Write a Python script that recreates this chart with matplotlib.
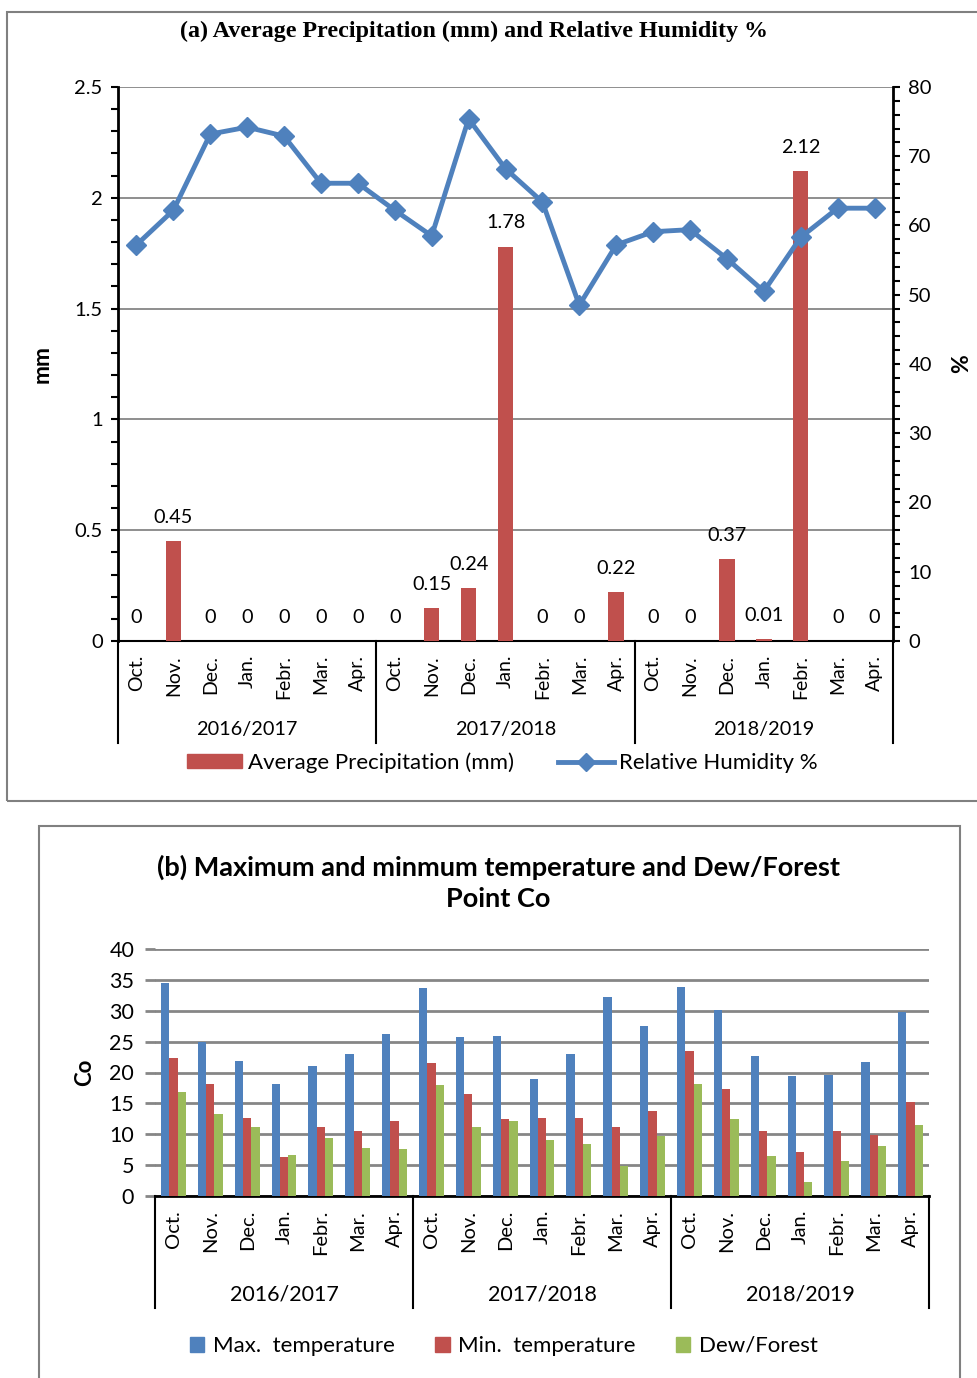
import matplotlib
matplotlib.use("Agg")
import matplotlib.pyplot as plt
import matplotlib.transforms as mtransforms
from matplotlib.patches import Rectangle, Patch
from matplotlib.lines import Line2D
import numpy as np

plt.rcParams["font.family"] = ["Lato", "DejaVu Sans"]

months = ["Oct.", "Nov.", "Dec.", "Jan.", "Febr.", "Mar.", "Apr."] * 3
seasons = ["2016/2017", "2017/2018", "2018/2019"]

precip = [0, 0.45, 0, 0, 0, 0, 0,
          0, 0.15, 0.24, 1.78, 0, 0, 0.22,
          0, 0, 0.37, 0.01, 2.12, 0, 0]
humidity = [57.2, 62.2, 73.2, 74.2, 72.9, 66.1, 66.1,
            62.2, 58.5, 75.4, 68.2, 63.4, 48.5, 57.2,
            59.1, 59.4, 55.2, 50.5, 58.3, 62.5, 62.5]

t_max = [34.5, 25.0, 21.9, 18.2, 21.1, 23.0, 26.3,
         33.7, 25.7, 25.9, 19.0, 23.0, 32.3, 27.6,
         33.9, 30.1, 22.6, 19.4, 19.6, 21.7, 29.8]
t_min = [22.4, 18.2, 12.6, 6.3, 11.1, 10.5, 12.2,
         21.5, 16.5, 12.5, 12.6, 12.7, 11.1, 13.8,
         23.5, 17.4, 10.5, 7.2, 10.5, 9.9, 15.2]
dew = [16.9, 13.3, 11.1, 6.6, 9.4, 7.8, 7.6,
       18.0, 11.2, 12.2, 9.1, 8.4, 4.9, 9.7,
       18.2, 12.5, 6.5, 2.2, 5.6, 8.1, 11.5]

BLUE = "#4F81BD"
RED = "#C0504D"
GREEN = "#9BBB59"
GRID = "#868686"

W, H = 977, 1378
fig = plt.figure(figsize=(W / 100, H / 100), dpi=100, facecolor="white")


def frac(x0, y0, x1, y1):
    # pixel box (top-left origin) -> figure fraction rect
    return [x0 / W, 1 - y1 / H, (x1 - x0) / W, (y1 - y0) / H]


def group_axis(ax, sep_y, year_y, fs, yfs):
    x = np.arange(len(months))
    ax.set_xticks(x)
    ax.set_xticklabels(months, rotation=90, fontsize=fs)
    ax.set_xlim(-0.5, len(months) - 0.5)
    trans = mtransforms.blended_transform_factory(ax.transData, ax.transAxes)
    for b in [-0.5, 6.5, 13.5, 20.5]:
        ax.plot([b, b], [0, sep_y], color="black", lw=1.5, transform=trans, clip_on=False)
    for i, s in enumerate(seasons):
        ax.text(3 + 7 * i, year_y, s, transform=trans, ha="center", va="center", fontsize=yfs)


# panel borders
fig.add_artist(Rectangle((7 / W, 1 - 801 / H), 1.0, (801 - 12) / H, transform=fig.transFigure,
                         fill=False, edgecolor="#808080", lw=1.5))
fig.add_artist(Rectangle((39 / W, -0.05), (960 - 39) / W, 0.05 + 1 - 826 / H, transform=fig.transFigure,
                         fill=False, edgecolor="#808080", lw=1.5))

# ---------------- (a) precipitation + humidity ----------------
ax1 = fig.add_axes(frac(118, 87, 893, 641))
x = np.arange(len(months))
ax1.bar(x, precip, width=0.42, color=RED, zorder=3)
for xi, v in zip(x, precip):
    ax1.annotate(f"{v:g}", (xi, v), xytext=(0, 17), textcoords="offset points",
                 ha="center", va="center", fontsize=14.3)
ax1.set_ylim(0, 2.5)
ax1.set_yticks(np.arange(0, 2.51, 0.5))
ax1.set_yticklabels(["0", "0.5", "1", "1.5", "2", "2.5"], fontsize=14.5)
ax1.set_yticks(np.arange(0, 2.51, 0.1), minor=True)
ax1.grid(axis="y", which="major", color=GRID, lw=1.3, zorder=0)
ax1.set_axisbelow(True)
for s in ["top", "right"]:
    ax1.spines[s].set_visible(False)
ax1.spines["left"].set_linewidth(2)
ax1.spines["bottom"].set_linewidth(1.5)
ax1.tick_params(axis="y", which="both", direction="out", length=5, width=1.5, pad=6)
ax1.tick_params(axis="x", length=0, pad=10)
ax1.set_ylabel("mm", fontsize=16.5, fontweight="bold", labelpad=16)
group_axis(ax1, -0.184, -0.159, 14, 14.3)

ax2 = ax1.twinx()
ax2.plot(x, humidity, color=BLUE, lw=3.5, marker="D", markersize=10, zorder=4)
ax2.set_ylim(0, 80)
ax2.set_yticks(np.arange(0, 81, 10))
ax2.set_yticks(np.arange(0, 81, 2), minor=True)
ax2.tick_params(axis="y", which="both", direction="out", length=5, width=1.5, pad=6, labelsize=14.5)
for s in ["top", "left", "bottom"]:
    ax2.spines[s].set_visible(False)
ax2.spines["right"].set_linewidth(2)
ax2.set_ylabel("%", fontsize=16.5, fontweight="bold", rotation=90, labelpad=14)

ax1.text(0.459, 1.101, "(a) Average Precipitation (mm) and Relative Humidity %", transform=ax1.transAxes,
         ha="center", va="center", fontsize=17.3, fontweight="bold", family="Liberation Serif")

h1 = [Patch(color=RED), Line2D([], [], color=BLUE, lw=3.5, marker="D", markersize=9)]
ax1.legend(h1, ["Average Precipitation (mm)", "Relative Humidity %"], loc="center",
           bbox_to_anchor=(0.496, -0.22), ncol=2, frameon=False, fontsize=16,
           handlelength=2.5, handleheight=0.6, handletextpad=0.25, columnspacing=2.0)

# ---------------- (b) temperatures ----------------
ax3 = fig.add_axes(frac(155, 949, 929, 1196))
bw = 0.225
ax3.bar(x - bw, t_max, width=bw, color=BLUE, zorder=3)
ax3.bar(x, t_min, width=bw, color=RED, zorder=3)
ax3.bar(x + bw, dew, width=bw, color=GREEN, zorder=3)
ax3.set_ylim(0, 40)
ax3.set_yticks(np.arange(0, 41, 5))
ax3.grid(axis="y", color=GRID, lw=2, zorder=0)
ax3.set_axisbelow(True)
for s in ["top", "right", "left"]:
    ax3.spines[s].set_visible(False)
ax3.spines["bottom"].set_linewidth(2)
ax3.tick_params(axis="y", direction="out", length=7, width=2, color=GRID, labelsize=15.5, pad=8)
ax3.tick_params(axis="x", length=0, pad=10)
ax3.set_ylabel("Co", fontsize=16, fontweight="bold", labelpad=10)
group_axis(ax3, -0.453, -0.397, 14.5, 15.5)
ax3.text(0.444, 1.269, "(b) Maximum and minmum temperature and Dew/Forest\nPoint Co",
         transform=ax3.transAxes, ha="center", va="center", fontsize=19.5,
         fontweight="bold", linespacing=1.35)

h3 = [Patch(color=BLUE), Patch(color=RED), Patch(color=GREEN)]
ax3.legend(h3, ["Max.  temperature", "Min.  temperature", "Dew/Forest"], loc="center",
           bbox_to_anchor=(0.451, -0.607), ncol=3, frameon=False, fontsize=16,
           handlelength=0.65, handleheight=0.65, handletextpad=0.4, columnspacing=1.8)

fig.savefig("out.png", dpi=100, facecolor="white")
